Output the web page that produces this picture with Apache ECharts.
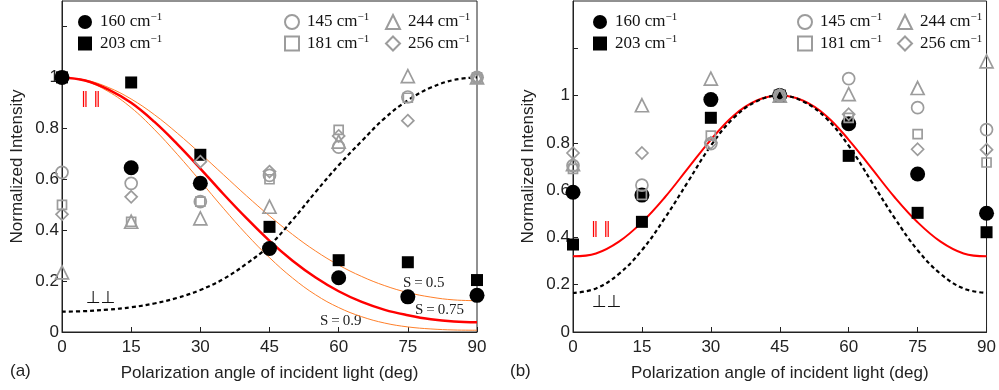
<!DOCTYPE html>
<html>
<head>
<meta charset="utf-8">
<script src="https://cdn.jsdelivr.net/npm/echarts@6/dist/echarts.min.js"></script>
<style>
  html, body { margin: 0; padding: 0; background: #fff; }
  #chart { width: 999px; height: 390px; }
</style>
</head>
<body>
<div id="chart"></div>
<script>
// measured angles (deg)
const angles = [0, 15, 30, 45, 60, 75, 90];

// panel (a) data points
const a160 = [1.0, 0.645, 0.584, 0.328, 0.213, 0.138, 0.144];
const a203 = [1.0, 0.98, 0.696, 0.413, 0.282, 0.274, 0.204];
const a145 = [0.627, 0.584, 0.512, 0.615, 0.726, 0.923, 1.0];
const a181 = [0.499, 0.433, 0.512, 0.60, 0.794, 0.92, 1.0];
const a244 = [0.234, 0.433, 0.446, 0.492, 0.748, 1.005, 1.0];
const a256 = [0.462, 0.531, 0.669, 0.63, 0.77, 0.83, 1.0];

// panel (b) data points
const b160 = [0.591, 0.579, 0.983, 1.0, 0.881, 0.668, 0.502];
const b203 = [0.370, 0.466, 0.906, 1.0, 0.745, 0.504, 0.422];
const b145 = [0.704, 0.621, 0.797, 1.0, 1.072, 0.949, 0.856];
const b181 = [0.69, 0.58, 0.831, 1.0, 0.906, 0.837, 0.717];
const b244 = [0.71, 0.959, 1.072, 1.0, 1.006, 1.032, 1.145];
const b256 = [0.757, 0.757, 0.80, 1.0, 0.921, 0.773, 0.771];

// curves read every 5 deg
const fineAngles = [0, 5, 10, 15, 20, 25, 30, 35, 40, 45, 50, 55, 60, 65, 70, 75, 80, 85, 90];
const aParS75 = [1.000, 0.988, 0.953, 0.900, 0.826, 0.738, 0.642, 0.542, 0.447, 0.358, 0.280, 0.214, 0.160, 0.118, 0.087, 0.066, 0.050, 0.041, 0.038];
const aParS50 = [1.000, 0.990, 0.961, 0.915, 0.854, 0.781, 0.701, 0.618, 0.535, 0.456, 0.383, 0.318, 0.263, 0.218, 0.182, 0.155, 0.137, 0.126, 0.123];
const aParS90 = [1.000, 0.986, 0.945, 0.881, 0.796, 0.698, 0.593, 0.486, 0.384, 0.292, 0.212, 0.146, 0.096, 0.060, 0.035, 0.020, 0.012, 0.008, 0.007];
const aPerp = [0.080, 0.082, 0.088, 0.097, 0.112, 0.134, 0.165, 0.208, 0.268, 0.340, 0.440, 0.550, 0.655, 0.750, 0.840, 0.910, 0.960, 0.990, 1.000];
const bPar = [0.320, 0.332, 0.382, 0.464, 0.570, 0.692, 0.813, 0.916, 0.979, 1.000, 0.979, 0.916, 0.813, 0.692, 0.570, 0.464, 0.382, 0.332, 0.320];
const bPerp = [0.165, 0.184, 0.246, 0.346, 0.482, 0.635, 0.788, 0.906, 0.976, 1.000, 0.976, 0.906, 0.788, 0.635, 0.482, 0.346, 0.246, 0.184, 0.165];

const GRAY = '#9c9c9c';
const SANS = 'Liberation Sans';
const SERIF = 'Liberation Serif';

function pairs(xs, ys) {
  return xs.map(function (x, i) { return [x, ys[i]]; });
}

let chart = echarts.init(document.getElementById('chart'));

function xAxisFor(gridIndex) {
  return {
    type: 'value', gridIndex: gridIndex, min: 0, max: 90, interval: 15,
    name: 'Polarization angle of incident light (deg)',
    nameLocation: 'middle', nameGap: 33,
    nameTextStyle: { fontFamily: SANS, fontSize: 17, color: '#222' },
    axisLine: { lineStyle: { color: '#222' } },
    axisTick: { inside: true, length: 5, lineStyle: { color: '#222' } },
    axisLabel: { fontFamily: SANS, fontSize: 17, color: '#222', margin: 7 },
    splitLine: { show: false }
  };
}

function yAxisFor(gridIndex, max) {
  return {
    type: 'value', gridIndex: gridIndex, min: 0, max: max, interval: 0.2,
    name: 'Normalized Intensity',
    nameLocation: 'middle', nameGap: 36,
    nameTextStyle: { fontFamily: SANS, fontSize: 17, color: '#222' },
    axisLine: { lineStyle: { color: '#222' } },
    axisTick: { inside: true, length: 5, lineStyle: { color: '#222' } },
    axisLabel: {
      fontFamily: SANS, fontSize: 17, color: '#222', margin: 3, showMaxLabel: false,
      formatter: function (v) {
        let r = Math.round(v * 10) / 10;
        if (r > 1.01) return '';
        return String(r);
      }
    },
    splitLine: { show: false }
  };
}

function filled(name, symbol, size, idx, data) {
  return {
    name: name, type: 'scatter', xAxisIndex: idx, yAxisIndex: idx,
    symbol: symbol, symbolSize: size, z: 3,
    itemStyle: { color: '#000', opacity: 1 },
    data: data
  };
}

function hollow(name, symbol, size, idx, data) {
  return {
    name: name, type: 'scatter', xAxisIndex: idx, yAxisIndex: idx,
    symbol: symbol, symbolSize: size, z: 4,
    itemStyle: { color: 'rgba(255,255,255,0)', borderColor: GRAY, borderWidth: 1.7, opacity: 1 },
    data: data
  };
}

function curve(idx, ys, color, width, type) {
  return {
    type: 'line', xAxisIndex: idx, yAxisIndex: idx,
    smooth: 0.4, showSymbol: false, silent: true, z: 2,
    lineStyle: { color: color, width: width, type: type || 'solid' },
    data: pairs(fineAngles, ys)
  };
}

function legendCol(left, names, icons) {
  return {
    left: left, top: 12, orient: 'vertical', padding: 0,
    itemWidth: 14, itemHeight: 14, itemGap: 3,
    selectedMode: false,
    data: names.map(function (n, i) { return { name: n, icon: icons[i] }; }),
    formatter: function (n) { return '{n|' + n + ' cm}{s|\u22121}'; },
    textStyle: {
      rich: {
        n: { fontFamily: SERIF, fontSize: 17, color: '#111', padding: [0, 0, 0, 3], lineHeight: 20 },
        s: { fontFamily: SERIF, fontSize: 11, color: '#111', verticalAlign: 'top', lineHeight: 11 }
      }
    }
  };
}

let option = {
  animation: false,
  backgroundColor: '#fff',
  grid: [
    { left: 62, top: 1, width: 415, height: 331, show: true, borderColor: '#222', borderWidth: 1 },
    { left: 573, top: 1, width: 416, height: 331, show: true, borderColor: '#222', borderWidth: 1 }
  ],
  xAxis: [xAxisFor(0), xAxisFor(1)],
  yAxis: [yAxisFor(0, 1.3), yAxisFor(1, 1.4)],
  legend: [
    legendCol(78, ['160', '203'], ['circle', 'rect']),
    legendCol(284, ['145', '181'], ['circle', 'rect']),
    legendCol(385, ['244', '256'], ['triangle', 'diamond']),
    legendCol(593, ['160', '203'], ['circle', 'rect']),
    legendCol(797, ['145', '181'], ['circle', 'rect']),
    legendCol(897, ['244', '256'], ['triangle', 'diamond'])
  ],
  series: [
    curve(0, aParS50, '#ff7f2a', 1),
    curve(0, aParS90, '#ff7f2a', 1),
    curve(0, aParS75, '#ff0000', 2.5),
    curve(0, aPerp, '#000', 2.2, [4, 3]),
    curve(1, bPar, '#ff0000', 2),
    curve(1, bPerp, '#000', 2.2, [4, 3]),

    filled('160', 'circle', 15, 0, pairs(angles, a160)),
    filled('203', 'rect', 12, 0, pairs(angles, a203)),
    hollow('145', 'circle', 12, 0, pairs(angles, a145)),
    hollow('181', 'rect', 9, 0, pairs(angles, a181)),
    hollow('244', 'triangle', 13, 0, pairs(angles, a244)),
    hollow('256', 'diamond', 12, 0, pairs(angles, a256)),

    filled('160', 'circle', 15, 1, pairs(angles, b160)),
    filled('203', 'rect', 12, 1, pairs(angles, b203)),
    hollow('145', 'circle', 12, 1, pairs(angles, b145)),
    hollow('181', 'rect', 9, 1, pairs(angles, b181)),
    hollow('244', 'triangle', 13, 1, pairs(angles, b244)),
    hollow('256', 'diamond', 12, 1, pairs(angles, b256))
  ],
  graphic: [
    { type: 'text', left: 10, top: 363, style: { text: '(a)', font: '17px ' + SANS, fill: '#222' } },
    { type: 'text', left: 510, top: 363, style: { text: '(b)', font: '17px ' + SANS, fill: '#222' } },
    { type: 'text', left: 81, top: 92, style: { text: '\u2016 \u2016', font: '15px DejaVu Sans', fill: '#ff0000' } },
    { type: 'text', left: 591, top: 222, style: { text: '\u2016 \u2016', font: '15px DejaVu Sans', fill: '#ff0000' } },
    { type: 'text', left: 86, top: 290, style: { text: '\u22a5\u22a5', font: '17px DejaVu Sans', fill: '#111' } },
    { type: 'text', left: 592, top: 294, style: { text: '\u22a5\u22a5', font: '17px DejaVu Sans', fill: '#111' } },
    { type: 'text', left: 403, top: 276, style: { text: 'S\u2009=\u20090.5', font: '15px ' + SERIF, fill: '#222' } },
    { type: 'text', left: 415, top: 303, style: { text: 'S\u2009=\u20090.75', font: '15px ' + SERIF, fill: '#222' } },
    { type: 'text', left: 320, top: 314, style: { text: 'S\u2009=\u20090.9', font: '15px ' + SERIF, fill: '#222' } }
  ]
};

chart.setOption(option);
</script>
</body>
</html>
